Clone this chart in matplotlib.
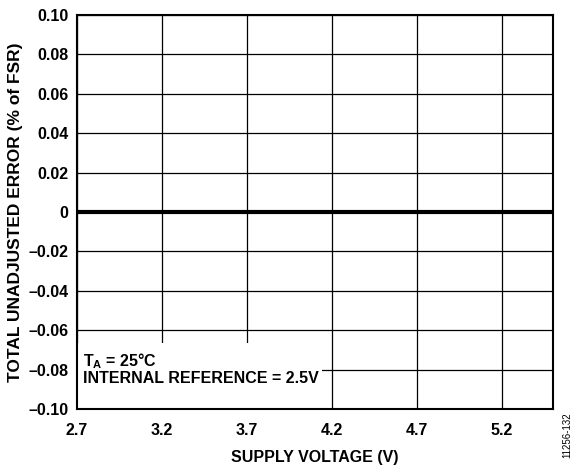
import matplotlib

matplotlib.use("Agg")
import matplotlib.pyplot as plt
import numpy as np
from matplotlib.patches import Rectangle

# data (flat at zero across the supply range)
supply_v = [2.7, 3.2, 3.7, 4.2, 4.7, 5.2, 5.5]
tue = [0.0, 0.0, 0.0, 0.0, 0.0, 0.0, 0.0]

x_ticks = [2.7, 3.2, 3.7, 4.2, 4.7, 5.2]
y_ticks = [-0.10, -0.08, -0.06, -0.04, -0.02, 0, 0.02, 0.04, 0.06, 0.08, 0.10]
y_labels = ["–0.10", "–0.08", "–0.06", "–0.04", "–0.02", "0",
            "0.02", "0.04", "0.06", "0.08", "0.10"]

plt.rcParams["font.family"] = ["Liberation Sans", "DejaVu Sans"]
plt.rcParams["font.weight"] = "bold"
plt.rcParams["mathtext.fontset"] = "custom"
plt.rcParams["mathtext.rm"] = "Liberation Sans:bold"
plt.rcParams["mathtext.it"] = "Liberation Sans:bold"
plt.rcParams["mathtext.bf"] = "Liberation Sans:bold"

fig = plt.figure(figsize=(5.82, 4.67), dpi=100)
ax = fig.add_axes([77 / 582, 1 - 409 / 467, (553 - 77) / 582, (409 - 15) / 467])

ax.set_xlim(2.7, 5.5)
ax.set_ylim(-0.10, 0.10)
ax.set_xticks(x_ticks)
ax.set_yticks(y_ticks)
ax.set_yticklabels(y_labels)
ax.tick_params(length=0, labelsize=11.5)
ax.tick_params(axis="x", pad=10)
ax.tick_params(axis="y", pad=6)
ax.grid(True, color="black", linewidth=0.9)
ax.set_axisbelow(True)
for s in ax.spines.values():
    s.set_linewidth(1.5)

ax.plot(supply_v, tue, color="black", linewidth=3.0, zorder=3)

# legend box covering the grid in the lower-left corner
ax.add_patch(Rectangle((2.7, -0.10), 4.14 - 2.7, 0.1 - 0.0665,
                       facecolor="white", edgecolor="none", zorder=2))
ax.text(2.735, -0.0755, r"T$_A$ = 25°C", fontsize=11.5, fontweight="bold",
        va="center", zorder=4)
ax.text(2.735, -0.0845, "INTERNAL REFERENCE = 2.5V", fontsize=11.5,
        fontweight="bold", va="center", zorder=4)

ax.set_xlabel("SUPPLY VOLTAGE (V)", fontsize=11.5, fontweight="bold", labelpad=9)
ax.set_ylabel("TOTAL UNADJUSTED ERROR (% of FSR)", fontsize=12.5,
              fontweight="bold", labelpad=4)

fig.text(567 / 582, 1 - 435 / 467, "11256-132", rotation=90, fontsize=7,
         fontweight="normal", ha="center", va="center")

fig.savefig("out.png", dpi=100, facecolor="white")
